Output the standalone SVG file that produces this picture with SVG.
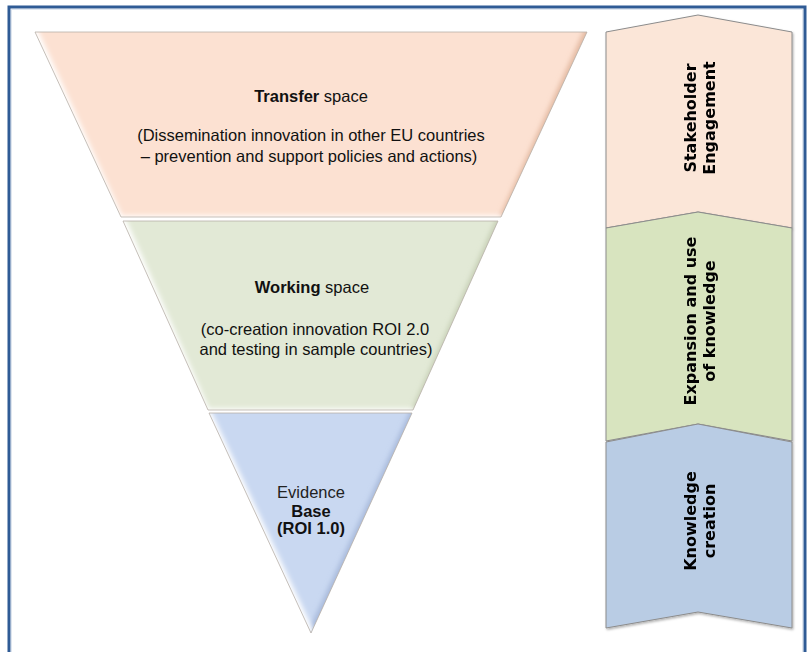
<svg xmlns="http://www.w3.org/2000/svg" width="811" height="652" viewBox="0 0 811 652">
<style>
.t{font-family:"Liberation Sans",Arial,sans-serif;font-size:16.5px;fill:#111;text-anchor:middle}
.b{font-weight:bold}
.c{font-family:"DejaVu Sans","Liberation Sans",sans-serif;font-size:16px;font-weight:bold;fill:#000;text-anchor:middle}
.chev{stroke:#8c8c8c;stroke-width:1}
.seg{stroke:#b8b0a8;stroke-width:0.8;fill:none}
.hi{fill:none;stroke:#ffffff;stroke-width:9;filter:url(#blur)}
.lo{fill:none;stroke-width:9;filter:url(#blur)}
</style>
<defs>
<filter id="blur" x="-20%" y="-20%" width="140%" height="140%"><feGaussianBlur stdDeviation="2.5"/></filter>
<filter id="sh" x="-10%" y="-10%" width="120%" height="120%">
<feDropShadow dx="1" dy="1.5" stdDeviation="1.2" flood-color="#000" flood-opacity="0.3"/>
</filter>
<clipPath id="cP"><polygon points="35,32 587,32 501,217 121,217"/></clipPath>
<clipPath id="cG"><polygon points="123,221 498,221 413,410 208,410"/></clipPath>
<clipPath id="cB"><polygon points="209,413 412,413 311,633"/></clipPath>
</defs>
<rect x="0" y="0" width="811" height="652" fill="#ffffff"/>
<rect x="9" y="7" width="796" height="660" fill="#ffffff" stroke="#2f5b95" stroke-width="3"/>
<rect x="11.5" y="9.5" width="791" height="660" fill="none" stroke="#dfe6ef" stroke-width="1"/>

<g id="transfer">
<g clip-path="url(#cP)">
<polygon points="35,32 587,32 501,217 121,217" fill="#fce1d2"/>
<polyline class="lo" points="30,30 592,30" stroke="#e6c0aa" style="stroke-width:5"/>
<polyline class="lo" points="590,28 503,220" stroke="#e3b9a1"/>
<polyline class="hi" points="32,28 119,220 503,220"/>
</g>
<polygon class="seg" points="35,32 587,32 501,217 121,217"/>
<text class="t" x="311" y="102"><tspan class="b">Transfer</tspan> space</text>
<text class="t" x="311" y="141">(Dissemination innovation in other EU countries</text>
<text class="t" x="309" y="162">– prevention and support policies and actions)</text>
</g>

<g id="working">
<g clip-path="url(#cG)">
<polygon points="123,221 498,221 413,410 208,410" fill="#e2e9d6"/>
<polyline class="lo" points="118,219 503,219" stroke="#c9d2bb" style="stroke-width:5"/>
<polyline class="lo" points="501,219 415,413" stroke="#c6cfb5"/>
<polyline class="hi" points="120,217 206,413 415,413"/>
</g>
<polygon class="seg" points="123,221 498,221 413,410 208,410"/>
<text class="t" x="312" y="293"><tspan class="b">Working</tspan> space</text>
<text class="t" x="315" y="335">(co-creation innovation ROI 2.0</text>
<text class="t" x="316" y="355">and testing in sample countries)</text>
</g>

<g id="evidence">
<g clip-path="url(#cB)">
<polygon points="209,413 412,413 311,633" fill="#c9d8f1"/>
<polyline class="lo" points="204,411 417,411" stroke="#aebfdc" style="stroke-width:5"/>
<polyline class="lo" points="415,411 311,636" stroke="#a8badb"/>
<polyline class="hi" points="206,411 311,636"/>
</g>
<polygon class="seg" points="209,413 412,413 311,633"/>
<text class="t" x="311" y="498" style="fill:#222">Evidence</text>
<text class="t b" x="311" y="517">Base</text>
<text class="t b" x="311" y="534">(ROI 1.0)</text>
</g>

<g id="stakeholder" filter="url(#sh)">
<polygon class="chev" points="606,32 698,15 792,32 792,228 698,212 606,228" fill="#fbe6d8"/>
<text class="c" transform="translate(696,118) rotate(-90)"><tspan x="0" y="0">Stakeholder</tspan><tspan x="0" y="19">Engagement</tspan></text>
</g>

<g id="expansion" filter="url(#sh)">
<polygon class="chev" points="606,228 698,212 792,228 792,441 698,424 606,441" fill="#d8e4bf"/>
<text class="c" transform="translate(696,321) rotate(-90)"><tspan x="0" y="0">Expansion and use</tspan><tspan x="0" y="19">of knowledge</tspan></text>
</g>

<g id="knowledge" filter="url(#sh)">
<polygon class="chev" points="606,442 698,424 792,442 792,628 698,612 606,628" fill="#b9cce4"/>
<text class="c" transform="translate(696,521) rotate(-90)"><tspan x="0" y="0">Knowledge</tspan><tspan x="0" y="19">creation</tspan></text>
</g>

<g id="connectors"></g>
</svg>
